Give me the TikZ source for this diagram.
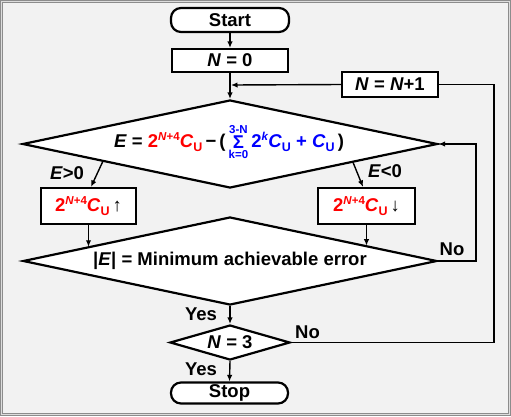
\documentclass[tikz,border=0pt]{standalone}
\usepackage{fontspec}
\setmainfont{Liberation Sans}
\usetikzlibrary{shapes.geometric,arrows.meta,calc}
\definecolor{bgc}{HTML}{F2F2F2}
\definecolor{frm}{HTML}{8C8C8C}
\definecolor{myred}{HTML}{FF0000}
\definecolor{myblue}{HTML}{0000FF}
\newcommand{\mainfnt}{\fontsize{18.5}{20}\selectfont\bfseries}
\newcommand{\upx}[1]{\raisebox{0.8ex}{\fontsize{11.5}{12}\selectfont #1}}
\newcommand{\dnx}[1]{\raisebox{-0.4ex}{\fontsize{12.5}{13}\selectfont #1}}
\newcommand{\CUx}{\textit{C}\dnx{U}}
\newcommand{\smx}{\fontsize{11.5}{12}\selectfont\bfseries}
\newcommand{\sumx}{\raisebox{1.5pt}{$\vcenter{\offinterlineskip\halign{\hfil##\hfil\cr\smx 3-N\cr\noalign{\kern2pt}Σ\cr\noalign{\kern2pt}\smx k=0\cr}}$}}
\tikzset{
  base/.style={draw=black, line width=2.2pt, fill=white, inner sep=0pt, font=\mainfnt},
  term/.style={base, rectangle, rounded corners=10pt},
  proc/.style={base, rectangle},
  dec/.style={base, diamond, aspect=1},
  conn/.style={line width=1.4pt, -{Latex[length=6.5pt,width=5.5pt]}},
  plain/.style={line width=1.4pt},
  lbl/.style={font=\mainfnt, inner sep=0pt}
}
\begin{document}
\begin{tikzpicture}[x=1pt,y=-1pt]
\useasboundingbox (0,0) rectangle (511,416);
\fill[frm] (0,0) rectangle (511,416);
\fill[white!70!frm] (1.2,1.2) rectangle (509.8,414.8);
\fill[frm] (2,2) rectangle (509,414);
\fill[bgc] (3,3) rectangle (508,413);

\node[term, minimum width=118pt, minimum height=24pt] (start) at (230,20) {Start};
\node[proc, minimum width=116pt, minimum height=23pt] (n0) at (230,60.5) {\textit{N} = 0};
\node[proc, minimum width=96pt, minimum height=25pt] (inc) at (390,84.5) {\textit{N} = \textit{N}+1};
\node[dec, minimum width=415pt, minimum height=88pt] (d1) at (230,144) {};
\node[lbl] (eq) at (229,142) {\textit{E} = \textcolor{myred}{2\upx{\textit{N}+4}\CUx}\,−\,(\,\textcolor{myblue}{\sumx\,2\upx{\textit{k}}\CUx{} + \CUx}\,)};
\node[proc, minimum width=95pt, minimum height=36pt] (bL) at (88.5,206) {\textcolor{myred}{2\upx{\textit{N}+4}\CUx}\,↑};
\node[proc, minimum width=97pt, minimum height=36pt] (bR) at (366.5,206) {\textcolor{myred}{2\upx{\textit{N}+4}\CUx}\,↓};
\node[dec, minimum width=414pt, minimum height=88pt] (d2) at (230,261) {};
\node[lbl] (eqt) at (230,261) {|\textit{E}| = Minimum achievable error};
\node[dec, minimum width=120pt, minimum height=35pt] (d3) at (230,342.5) {};
\node[lbl] (n3) at (230,342.5) {\textit{N} = 3};
\node[term, minimum width=117pt, minimum height=21pt] (stop) at (229.5,393) {Stop};

% labels
\node[lbl] (lgt) at (67,173) {\textit{E}>0};
\node[lbl] (llt) at (385,171) {\textit{E}<0};
\node[lbl] (lno1) at (452,249) {No};
\node[lbl] (lyes1) at (201,314) {Yes};
\node[lbl] (lno2) at (307.5,332.5) {No};
\node[lbl] (lyes2) at (201,369) {Yes};

% connectors
\coordinate (j) at (231,85);
\coordinate (pA) at ($(d1.west)!0.39!(d1.south)$);
\coordinate (pB) at ($(d1.south)!0.59!(d1.east)$);
\coordinate (pL) at ($(d2.west)!0.316!(d2.north)$);
\coordinate (pR) at ($(d2.north)!0.66!(d2.east)$);
\draw[conn] (start.south) -- (n0.north);
\draw[conn] (n0.south) -- (d1.north);
\draw[conn] (inc.west) -- (j);
\draw[conn] (pA) -- ($(bL.north)+(2.5,0)$);
\draw[conn] (pB) -- ($(bR.north)+(-3.5,0)$);
\draw[conn] (bL.south) -- (bL.south |- pL);
\draw[conn] (bR.south) -- (bR.south |- pR);
\draw[conn] (d2.east) -- ++(38,0) |- (d1.east);
\draw[conn] (d2.south) -- (d3.north);
\draw[conn] (d3.south) -- (stop.north);
\draw[plain] (d3.east) -- ++(203,0) |- (inc.east);
\end{tikzpicture}
\end{document}
